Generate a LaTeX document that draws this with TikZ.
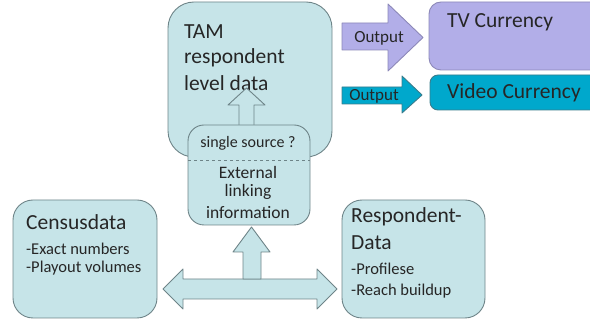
\documentclass[tikz,border=0pt]{standalone}
\usepackage{fontspec}
\setmainfont{Carlito}
\begin{document}
\begin{tikzpicture}[x=1pt,y=-1pt,
  line join=round,
  box/.style={draw=edgegray, fill=paleteal, line width=0.9pt},
  blockarrow/.style={draw=edgegray, fill=paleteal, line width=0.9pt},
  txt/.style={inner sep=0pt, text=black!85},
  big/.style={font=\fontsize{21.5}{24}\selectfont},
  small/.style={font=\fontsize{16.5}{18}\selectfont},
]
\definecolor{paleteal}{HTML}{C6E4E8}
\definecolor{edgegray}{HTML}{6E8488}
\definecolor{lilac}{HTML}{B2AEE8}
\definecolor{lilacedge}{HTML}{8C88B8}
\definecolor{cyanblue}{HTML}{00A8CC}
\definecolor{cyanedge}{HTML}{3A7C8C}
\useasboundingbox (0,0) rectangle (590,320);

% main respondent data store
\draw[box, rounded corners=26pt] (168,2) rectangle (332,157);
\node[txt, big, anchor=west] (tam1) at (184,32) {TAM};
\node[txt, big, anchor=west] (tam2) at (184,58) {respondent};
\node[txt, big, anchor=west] (tam3) at (184,83) {level data};

% arrow from linking box up into the data store
\draw[blockarrow] (239,126) -- (239,105) -- (228,105) -- (246.5,88) -- (265,105) -- (254,105) -- (254,126) -- cycle;

% linking box
\draw[box, rounded corners=16pt] (188,125) rectangle (310,225);
\draw[edgegray, dashed, line width=0.7pt] (188,160) -- (310,160);
\node[txt, font=\fontsize{16}{18}\selectfont] (single) at (248,143) {single source ?};
\node[txt, font=\fontsize{17.5}{20}\selectfont] (ext) at (248,172) {External};
\node[txt, font=\fontsize{17.5}{20}\selectfont] (link) at (248,192) {linking};
\node[txt, font=\fontsize{17.5}{20}\selectfont] (info) at (248,213) {information};

% output arrows
\draw[draw=lilacedge, fill=lilac, line width=0.9pt]
  (342,23) -- (388,23) -- (388,4) -- (423,37.5) -- (388,71) -- (388,50) -- (342,50) -- cycle;
\node[txt, font=\fontsize{17}{20}\selectfont] (out1) at (379,38) {Output};
\draw[draw=cyanedge, fill=cyanblue, line width=0.9pt]
  (342,87) -- (402,87) -- (402,76) -- (422,95) -- (402,113) -- (402,104) -- (342,104) -- cycle;
\node[txt, font=\fontsize{17}{20}\selectfont] (out2) at (374,96) {Output};

% currency boxes
\draw[draw=lilacedge, fill=lilac, line width=0.9pt, rounded corners=12pt] (429,2) rectangle (605,70);
\node[txt, big, anchor=west] (tv) at (447,22) {TV Currency};
\draw[draw=cyanedge, fill=cyanblue, line width=0.9pt, rounded corners=8pt] (430,75) rectangle (605,110);
\node[txt, big, anchor=west] (video) at (447,93) {Video Currency};

% census data
\draw[box, rounded corners=20pt] (13,200) rectangle (157,318);
\node[txt, big, anchor=west] (census) at (26,222) {Censusdata};
\node[txt, small, anchor=west] (c1) at (26,249) {-Exact numbers};
\node[txt, small, anchor=west] (c2) at (26,268) {-Playout volumes};

% respondent data
\draw[box, rounded corners=20pt] (342,200) rectangle (485,318);
\node[txt, big, anchor=west] (resp1) at (351,217) {Respondent-};
\node[txt, big, anchor=west] (resp2) at (351,243) {Data};
\node[txt, small, anchor=west] (r1) at (351,269) {-Profilese};
\node[txt, small, anchor=west] (r2) at (351,291) {-Reach buildup};

% double-headed arrow between the two sources
\draw[blockarrow] (163,289) -- (183,269) -- (183,279) -- (317,279) -- (317,269) -- (337,289)
  -- (317,309) -- (317,299) -- (183,299) -- (183,309) -- cycle;
% arrow up to the linking box
\draw[blockarrow] (243,279) -- (243,252) -- (233,252) -- (251.5,227) -- (270,252) -- (261,252) -- (261,279) -- cycle;
\end{tikzpicture}
\end{document}
